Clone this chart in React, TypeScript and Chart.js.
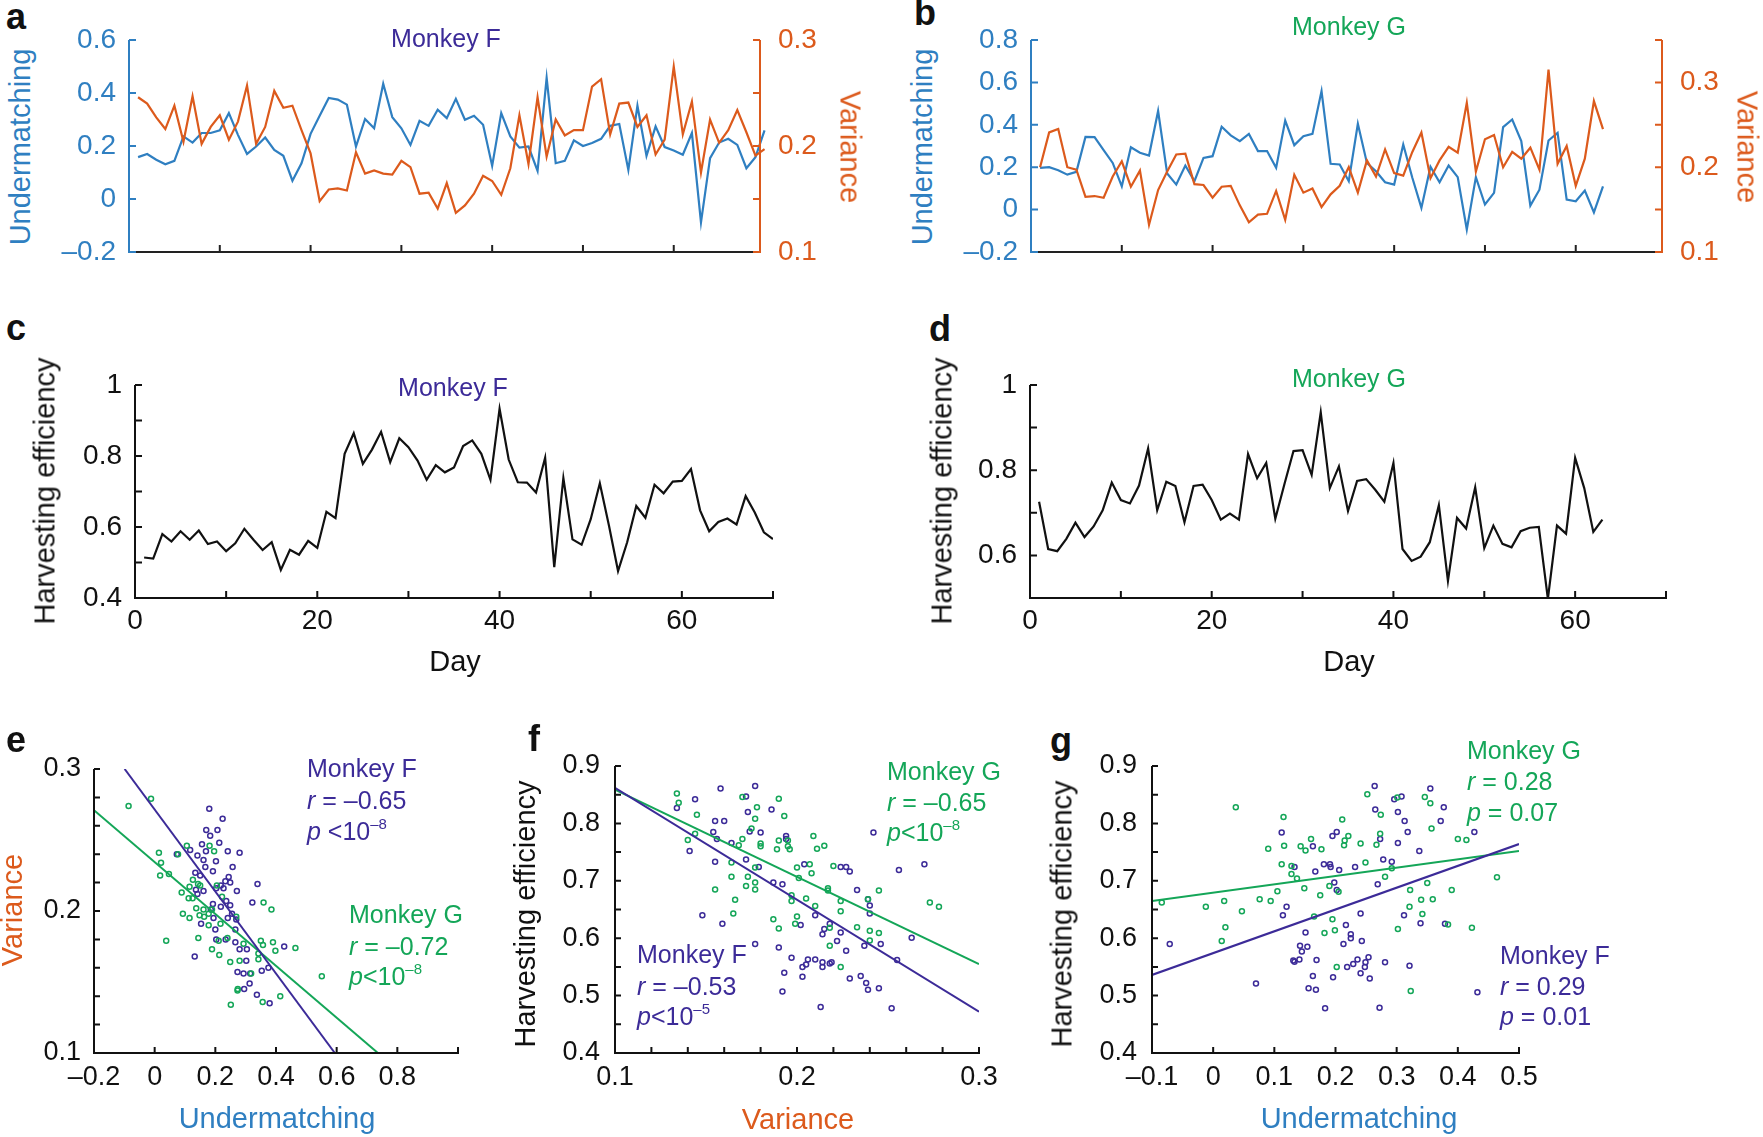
import React, { useEffect, useRef } from 'react';
import { Chart, registerables } from 'chart.js';

Chart.register(...registerables);

const FONT = "'Liberation Sans', Arial, Helvetica, sans-serif";
const BLUE = '#2f7fc1';
const ORANGE = '#dc5a1c';
const PURPLE = '#3c2b98';
const GREEN = '#14a658';
const BLACK = '#111111';

// ---------- Time series (day 1..N) ----------
const fUndermatching = [
  0.158, 0.170, 0.148, 0.131, 0.144, 0.236, 0.213, 0.249, 0.249, 0.259,
  0.324, 0.242, 0.170, 0.198, 0.232, 0.185, 0.163, 0.069, 0.135, 0.246,
  0.314, 0.381, 0.375, 0.356, 0.198, 0.302, 0.267, 0.435, 0.309, 0.267,
  0.204, 0.295, 0.276, 0.337, 0.305, 0.378, 0.299, 0.314, 0.280, 0.125,
  0.324, 0.236, 0.194, 0.198, 0.106, 0.457, 0.135, 0.144, 0.221, 0.200,
  0.211, 0.227, 0.276, 0.283, 0.110, 0.352, 0.163, 0.274, 0.196, 0.183,
  0.167, 0.249, -0.088, 0.154, 0.213, 0.227, 0.204, 0.116, 0.158, 0.259,
];
const fVariance = [
  0.246, 0.240, 0.227, 0.216, 0.238, 0.204, 0.247, 0.202, 0.218, 0.229,
  0.206, 0.223, 0.257, 0.202, 0.218, 0.252, 0.236, 0.238, 0.215, 0.193,
  0.148, 0.159, 0.160, 0.158, 0.194, 0.174, 0.177, 0.174, 0.173, 0.186,
  0.180, 0.155, 0.156, 0.141, 0.165, 0.137, 0.144, 0.155, 0.172, 0.167,
  0.154, 0.179, 0.229, 0.183, 0.246, 0.190, 0.225, 0.210, 0.215, 0.215,
  0.256, 0.263, 0.211, 0.240, 0.241, 0.218, 0.229, 0.192, 0.206, 0.275,
  0.211, 0.242, 0.175, 0.225, 0.203, 0.215, 0.234, 0.213, 0.191, 0.197,
];
const gUndermatching = [
  0.197, 0.200, 0.186, 0.165, 0.178, 0.343, 0.342, 0.280, 0.220, 0.110,
  0.294, 0.268, 0.255, 0.465, 0.170, 0.118, 0.208, 0.134, 0.244, 0.252,
  0.391, 0.350, 0.323, 0.357, 0.276, 0.276, 0.197, 0.420, 0.304, 0.346,
  0.357, 0.559, 0.216, 0.213, 0.134, 0.405, 0.220, 0.181, 0.129, 0.118,
  0.307, 0.150, 0.008, 0.202, 0.129, 0.208, 0.153, -0.094, 0.153, 0.024,
  0.079, 0.389, 0.425, 0.323, 0.019, 0.094, 0.326, 0.362, 0.047, 0.039,
  0.090, -0.013, 0.110,
];
const gVariance = [
  0.200, 0.241, 0.245, 0.200, 0.197, 0.165, 0.166, 0.164, 0.189, 0.207,
  0.177, 0.196, 0.132, 0.173, 0.195, 0.215, 0.216, 0.180, 0.179, 0.164,
  0.177, 0.178, 0.155, 0.135, 0.144, 0.145, 0.172, 0.138, 0.191, 0.170,
  0.175, 0.153, 0.168, 0.178, 0.200, 0.170, 0.208, 0.189, 0.221, 0.193,
  0.190, 0.218, 0.241, 0.187, 0.208, 0.224, 0.217, 0.276, 0.195, 0.233,
  0.238, 0.200, 0.218, 0.210, 0.223, 0.197, 0.315, 0.204, 0.225, 0.178,
  0.210, 0.278, 0.245,
];
const fEfficiency = [
  0.514, 0.511, 0.580, 0.559, 0.588, 0.564, 0.590, 0.552, 0.559, 0.532,
  0.554, 0.595, 0.564, 0.535, 0.557, 0.479, 0.536, 0.522, 0.561, 0.541,
  0.643, 0.625, 0.806, 0.864, 0.778, 0.818, 0.868, 0.783, 0.850, 0.825,
  0.787, 0.733, 0.774, 0.754, 0.768, 0.828, 0.844, 0.806, 0.733, 0.933,
  0.790, 0.726, 0.725, 0.697, 0.795, 0.487, 0.738, 0.565, 0.550, 0.622,
  0.723, 0.604, 0.476, 0.557, 0.659, 0.626, 0.719, 0.695, 0.728, 0.730,
  0.763, 0.647, 0.588, 0.614, 0.624, 0.607, 0.687, 0.641, 0.585, 0.566,
];
const gEfficiency = [
  0.726, 0.615, 0.610, 0.639, 0.677, 0.643, 0.668, 0.706, 0.771, 0.730,
  0.722, 0.764, 0.851, 0.706, 0.773, 0.763, 0.678, 0.763, 0.766, 0.730,
  0.684, 0.698, 0.684, 0.838, 0.781, 0.817, 0.686, 0.767, 0.845, 0.847,
  0.789, 0.936, 0.758, 0.809, 0.704, 0.775, 0.779, 0.754, 0.726, 0.817,
  0.615, 0.587, 0.597, 0.631, 0.718, 0.540, 0.688, 0.663, 0.760, 0.617,
  0.670, 0.627, 0.619, 0.657, 0.665, 0.667, 0.498, 0.670, 0.651, 0.829,
  0.758, 0.655, 0.684,
];

// ---------- Scatter panels ----------
// e: [undermatching, variance]
const eMonkeyF = [
  [0.180, 0.272], [0.224, 0.265], [0.170, 0.257], [0.207, 0.257], [0.183, 0.253], [0.156, 0.247], [0.213, 0.248],
  [0.117, 0.243], [0.073, 0.240], [0.141, 0.239], [0.169, 0.242], [0.241, 0.242], [0.280, 0.241], [0.161, 0.236],
  [0.202, 0.235], [0.167, 0.231], [0.257, 0.231], [0.192, 0.228], [0.134, 0.227], [0.150, 0.225], [0.244, 0.224],
  [0.233, 0.221], [0.249, 0.220], [0.218, 0.218], [0.227, 0.216], [0.203, 0.216], [0.141, 0.212], [0.161, 0.214],
  [0.271, 0.214], [0.339, 0.219], [0.236, 0.207], [0.249, 0.204], [0.218, 0.203], [0.192, 0.205], [0.322, 0.206],
  [0.185, 0.201], [0.255, 0.198], [0.269, 0.194], [0.241, 0.195], [0.194, 0.195], [0.153, 0.191], [0.200, 0.187],
  [0.266, 0.187], [0.203, 0.180], [0.234, 0.180], [0.266, 0.178], [0.280, 0.173], [0.304, 0.173], [0.302, 0.165],
  [0.427, 0.175], [0.132, 0.168], [0.273, 0.157], [0.293, 0.156], [0.315, 0.156], [0.353, 0.158], [0.375, 0.160],
  [0.313, 0.149], [0.295, 0.145], [0.337, 0.141], [0.379, 0.135], [0.136, 0.215],
];
const eMonkeyG = [
  [-0.012, 0.279], [0.106, 0.246], [0.181, 0.246], [0.196, 0.242], [0.014, 0.241], [0.077, 0.240], [0.021, 0.234],
  [0.018, 0.225], [0.047, 0.226], [0.126, 0.222], [0.143, 0.219], [0.150, 0.218], [0.115, 0.217], [0.205, 0.218],
  [0.089, 0.213], [0.112, 0.209], [0.125, 0.209], [0.222, 0.210], [0.359, 0.206], [0.385, 0.201], [0.137, 0.202],
  [0.161, 0.201], [0.093, 0.198], [0.115, 0.195], [0.148, 0.197], [0.163, 0.196], [0.178, 0.198], [0.189, 0.201],
  [0.178, 0.190], [0.217, 0.191], [0.269, 0.196], [0.038, 0.179], [0.144, 0.181], [0.211, 0.179], [0.240, 0.181],
  [0.189, 0.173], [0.213, 0.169], [0.293, 0.177], [0.350, 0.179], [0.357, 0.176], [0.390, 0.178], [0.398, 0.172],
  [0.464, 0.174], [0.249, 0.164], [0.280, 0.165], [0.342, 0.170], [0.342, 0.166], [0.318, 0.156], [0.274, 0.145],
  [0.273, 0.144], [0.356, 0.136], [0.414, 0.140], [0.251, 0.134], [0.551, 0.154], [-0.086, 0.274],
];
const eFitF = [[-0.099, 0.3], [0.594, 0.1]];
const eFitG = [[-0.2, 0.271], [0.736, 0.1]];

// f: [variance, harvesting efficiency]
const fMonkeyF = [
  [0.134, 0.827], [0.144, 0.842], [0.158, 0.861], [0.172, 0.847], [0.177, 0.865], [0.173, 0.820], [0.186, 0.824],
  [0.155, 0.804], [0.160, 0.804], [0.154, 0.785], [0.156, 0.773], [0.141, 0.752], [0.174, 0.786], [0.180, 0.784],
  [0.164, 0.766], [0.194, 0.778], [0.194, 0.773], [0.242, 0.784], [0.155, 0.733], [0.172, 0.737], [0.179, 0.724],
  [0.204, 0.729], [0.224, 0.724], [0.227, 0.724], [0.229, 0.716], [0.187, 0.697], [0.192, 0.694], [0.256, 0.719],
  [0.270, 0.729], [0.233, 0.684], [0.239, 0.668], [0.148, 0.640], [0.159, 0.625], [0.210, 0.640], [0.240, 0.657],
  [0.240, 0.643], [0.202, 0.623], [0.218, 0.625], [0.215, 0.616], [0.224, 0.610], [0.214, 0.607], [0.222, 0.595],
  [0.237, 0.587], [0.246, 0.590], [0.263, 0.601], [0.177, 0.590], [0.190, 0.584], [0.197, 0.566], [0.206, 0.563],
  [0.210, 0.563], [0.205, 0.554], [0.203, 0.550], [0.214, 0.550], [0.214, 0.558], [0.218, 0.556], [0.219, 0.558],
  [0.227, 0.578], [0.255, 0.562], [0.193, 0.540], [0.203, 0.533], [0.229, 0.530], [0.235, 0.534], [0.238, 0.522],
  [0.239, 0.510], [0.245, 0.513], [0.192, 0.507], [0.213, 0.480], [0.252, 0.478],
];
const fMonkeyG = [
  [0.134, 0.852], [0.135, 0.836], [0.145, 0.815], [0.140, 0.771], [0.144, 0.782], [0.170, 0.846], [0.178, 0.828],
  [0.177, 0.808], [0.190, 0.843], [0.193, 0.813], [0.175, 0.791], [0.170, 0.773], [0.168, 0.762], [0.180, 0.765],
  [0.180, 0.760], [0.189, 0.755], [0.190, 0.770], [0.195, 0.770], [0.195, 0.760], [0.196, 0.755], [0.209, 0.778],
  [0.211, 0.756], [0.215, 0.761], [0.177, 0.723], [0.164, 0.732], [0.164, 0.707], [0.173, 0.707], [0.172, 0.691],
  [0.177, 0.685], [0.177, 0.697], [0.200, 0.723], [0.201, 0.705], [0.207, 0.729], [0.208, 0.713], [0.220, 0.726],
  [0.155, 0.685], [0.166, 0.667], [0.165, 0.643], [0.197, 0.675], [0.197, 0.665], [0.205, 0.669], [0.210, 0.656],
  [0.217, 0.687], [0.217, 0.683], [0.224, 0.665], [0.224, 0.647], [0.239, 0.668], [0.245, 0.683], [0.273, 0.662],
  [0.278, 0.655], [0.187, 0.633], [0.190, 0.617], [0.200, 0.638], [0.199, 0.625], [0.218, 0.618], [0.233, 0.619],
  [0.240, 0.613], [0.245, 0.609], [0.240, 0.596], [0.218, 0.587], [0.224, 0.550],
];
const fFitF = [[0.1, 0.862], [0.3, 0.472]];
const fFitG = [[0.1, 0.859], [0.3, 0.555]];

// g: [undermatching, harvesting efficiency]
const gMonkeyF = [
  [0.264, 0.865], [0.265, 0.824], [0.296, 0.842], [0.308, 0.847], [0.355, 0.861], [0.377, 0.828], [0.302, 0.820],
  [0.313, 0.804], [0.372, 0.804], [0.112, 0.784], [0.202, 0.785], [0.195, 0.778], [0.273, 0.773], [0.318, 0.785],
  [0.427, 0.785], [0.302, 0.766], [0.163, 0.760], [0.337, 0.752], [0.181, 0.729], [0.191, 0.729], [0.278, 0.737],
  [0.292, 0.733], [0.133, 0.724], [0.192, 0.724], [0.167, 0.716], [0.206, 0.719], [0.232, 0.724], [0.198, 0.697],
  [0.269, 0.694], [0.202, 0.684], [0.120, 0.655], [0.114, 0.640], [0.241, 0.643], [0.312, 0.640], [0.339, 0.626],
  [0.379, 0.625], [0.217, 0.623], [0.151, 0.610], [0.225, 0.607], [0.225, 0.600], [0.213, 0.590], [0.243, 0.595],
  [-0.071, 0.590], [0.142, 0.587], [0.154, 0.585], [0.145, 0.577], [0.131, 0.561], [0.133, 0.559], [0.141, 0.563],
  [0.169, 0.562], [0.236, 0.563], [0.229, 0.555], [0.249, 0.558], [0.254, 0.567], [0.248, 0.550], [0.281, 0.558],
  [0.219, 0.550], [0.321, 0.552], [0.241, 0.539], [0.163, 0.534], [0.196, 0.532], [0.256, 0.530], [0.070, 0.521],
  [0.156, 0.513], [0.168, 0.510], [0.432, 0.506], [0.183, 0.478], [0.272, 0.479],
];
const gMonkeyG = [
  [-0.084, 0.662], [-0.012, 0.655], [0.018, 0.665], [0.047, 0.647], [0.020, 0.619], [0.014, 0.595], [0.037, 0.828],
  [0.115, 0.811], [0.090, 0.756], [0.116, 0.761], [0.112, 0.729], [0.128, 0.726], [0.128, 0.712], [0.137, 0.704],
  [0.149, 0.687], [0.105, 0.682], [0.076, 0.668], [0.094, 0.665], [0.160, 0.773], [0.143, 0.760], [0.151, 0.753],
  [0.177, 0.755], [0.165, 0.638], [0.175, 0.675], [0.182, 0.609], [0.195, 0.633], [0.199, 0.614], [0.190, 0.691],
  [0.205, 0.681], [0.211, 0.807], [0.214, 0.762], [0.221, 0.778], [0.215, 0.770], [0.241, 0.765], [0.249, 0.732],
  [0.252, 0.851], [0.274, 0.815], [0.273, 0.782], [0.267, 0.763], [0.281, 0.707], [0.292, 0.722], [0.301, 0.845],
  [0.302, 0.616], [0.321, 0.655], [0.322, 0.684], [0.340, 0.667], [0.342, 0.642], [0.350, 0.696], [0.346, 0.846],
  [0.355, 0.835], [0.357, 0.791], [0.359, 0.668], [0.384, 0.624], [0.390, 0.684], [0.400, 0.773], [0.414, 0.771],
  [0.423, 0.618], [0.464, 0.706], [0.202, 0.550], [0.323, 0.508],
];
const gFitF = [[-0.1, 0.536], [0.5, 0.764]];
const gFitG = [[-0.1, 0.665], [0.5, 0.752]];

// ---------- Ticks ----------
const steps = (a: number, b: number, s: number): number[] => {
  const out: number[] = [];
  for (let i = 0; a + i * s <= b + 1e-9; i++) out.push(Math.round((a + i * s) * 1000) / 1000);
  return out;
};
const tsDayTicks = [10, 20, 30, 40, 50, 60];
const dayTicks = steps(0, 70, 10);
const dayLabels = [0, 20, 40, 60];
const aLeftTicks = steps(-0.2, 0.6, 0.2);
const aRightTicks = steps(0.1, 0.3, 0.05);
const bLeftTicks = steps(-0.2, 0.8, 0.2);
const bRightTicks = steps(0.1, 0.35, 0.05);
const varLabels = [0.1, 0.2, 0.3];
const cEffTicks = steps(0.4, 1, 0.1);
const cEffLabels = [0.4, 0.6, 0.8, 1];
const dEffTicks = steps(0.5, 1, 0.1);
const dEffLabels = [0.6, 0.8, 1];
const eXTicks = steps(-0.2, 1.0, 0.2);
const eXLabels = [-0.2, 0, 0.2, 0.4, 0.6, 0.8];
const eYTicks = steps(0.1, 0.3, 0.02);
const fXTicks = steps(0.1, 0.3, 0.02);
const effTicks = steps(0.4, 0.9, 0.05);
const effLabels = steps(0.4, 0.9, 0.1);
const gXTicks = steps(-0.1, 0.5, 0.1);

const fmt = (v: number) => {
  const r = Math.round(v * 1000) / 1000;
  if (Math.abs(r) < 1e-9) return '0';
  return (r < 0 ? '\u2013' : '') + String(Math.abs(r));
};
const labelFor = (labels: number[]) => (v: any) => {
  const n = Number(v);
  return labels.some((l) => Math.abs(l - n) < 1e-6) ? fmt(n) : '';
};

type AxisOpt = {
  pos: 'left' | 'right' | 'bottom'; min: number; max: number; ticks: number[]; labels: number[];
  color: string; size: number; pad: number; fit: number;
};
const axis = (o: AxisOpt) => ({
  type: 'linear', position: o.pos, min: o.min, max: o.max,
  grid: { display: false, drawTicks: false }, border: { display: false },
  ticks: {
    display: o.labels.length > 0, color: o.color, font: { family: FONT, size: o.size }, padding: o.pad,
    autoSkip: false, maxRotation: 0, minRotation: 0, callback: labelFor(o.labels),
  },
  afterBuildTicks: (s: any) => { s.ticks = o.ticks.map((v) => ({ value: v })); },
  afterFit: (s: any) => {
    if (o.pos === 'bottom') s.height = o.fit; else s.width = o.fit;
    s.paddingTop = 0; s.paddingBottom = 0; s.paddingLeft = 0; s.paddingRight = 0;
  },
});

// plugin: axis lines + inward tick marks drawn from the chart's scales
const inTicks = {
  id: 'inTicks',
  afterDatasetsDraw(chart: any, _a: any, opts: any) {
    const { ctx, chartArea: ca } = chart;
    ctx.save();
    for (const a of opts.axes || []) {
      const s = chart.scales[a.id];
      ctx.strokeStyle = a.color; ctx.lineWidth = a.width; ctx.lineCap = 'butt';
      ctx.beginPath();
      if (a.side === 'bottom') { ctx.moveTo(ca.left - a.width / 2, ca.bottom); ctx.lineTo(ca.right + a.width / 2, ca.bottom); }
      else if (a.side === 'left') { ctx.moveTo(ca.left, ca.top); ctx.lineTo(ca.left, ca.bottom + a.width / 2); }
      else { ctx.moveTo(ca.right, ca.top); ctx.lineTo(ca.right, ca.bottom + a.width / 2); }
      for (const t of s.ticks) {
        const p = s.getPixelForValue(t.value);
        if (a.side === 'bottom') { ctx.moveTo(p, ca.bottom); ctx.lineTo(p, ca.bottom - a.len); }
        else if (a.side === 'left') { ctx.moveTo(ca.left, p); ctx.lineTo(ca.left + a.len, p); }
        else { ctx.moveTo(ca.right, p); ctx.lineTo(ca.right - a.len, p); }
      }
      ctx.stroke();
    }
    ctx.restore();
  },
};

type Frame = { L: number; T: number; R: number; B: number; mL: number; mT: number; mR: number; mB: number };
const rectOf = (f: Frame) => ({ l: f.L - f.mL, t: f.T - f.mT, w: f.R - f.L + f.mL + f.mR, h: f.B - f.T + f.mT + f.mB });

const baseOptions = (f: Frame, scales: any, axes: any[], hasRight: boolean) => ({
  responsive: false, maintainAspectRatio: false, animation: false, devicePixelRatio: 1, events: [],
  layout: { autoPadding: false, padding: { top: f.mT, left: 0, bottom: 0, right: hasRight ? 0 : f.mR } },
  plugins: { legend: { display: false }, tooltip: { enabled: false }, inTicks: { axes } },
  scales,
});

const series = (vals: number[]) => vals.map((v, i) => ({ x: i + 1, y: v }));
const toXY = (pts: number[][]) => pts.map(([x, y]) => ({ x, y }));

// ---------- Frames (plot areas in page pixels) ----------
const FA: Frame = { L: 129, T: 40, R: 760, B: 252, mL: 80, mT: 20, mR: 80, mB: 20 };
const FB: Frame = { L: 1031, T: 40, R: 1662, B: 252, mL: 80, mT: 20, mR: 80, mB: 20 };
const FC: Frame = { L: 135, T: 385, R: 773, B: 598, mL: 80, mT: 20, mR: 30, mB: 50 };
const FD: Frame = { L: 1030, T: 385, R: 1666, B: 598, mL: 80, mT: 20, mR: 30, mB: 50 };
const FE: Frame = { L: 94, T: 769, R: 458, B: 1053, mL: 80, mT: 20, mR: 30, mB: 50 };
const FF: Frame = { L: 615, T: 766, R: 979, B: 1053, mL: 80, mT: 20, mR: 30, mB: 50 };
const FG: Frame = { L: 1152, T: 766, R: 1519, B: 1053, mL: 80, mT: 20, mR: 30, mB: 50 };

const tsConfig = (f: Frame, under: number[], vari: number[], leftMax: number, leftTicks: number[], rightMax: number, rightTicks: number[]) => ({
  type: 'line',
  data: {
    datasets: [
      { data: series(vari), yAxisID: 'y1', borderColor: ORANGE, borderWidth: 2.2, pointRadius: 0, tension: 0, clip: false, fill: false },
      { data: series(under), yAxisID: 'y', borderColor: BLUE, borderWidth: 2.2, pointRadius: 0, tension: 0, clip: false, fill: false },
    ],
  },
  options: baseOptions(f, {
    x: axis({ pos: 'bottom', min: 0, max: 69.5, ticks: tsDayTicks, labels: [], color: BLACK, size: 28, pad: 8, fit: f.mB }),
    y: axis({ pos: 'left', min: -0.2, max: leftMax, ticks: leftTicks, labels: leftTicks, color: BLUE, size: 28, pad: 13, fit: f.mL }),
    y1: axis({ pos: 'right', min: 0.1, max: rightMax, ticks: rightTicks, labels: varLabels, color: ORANGE, size: 28, pad: 18, fit: f.mR }),
  }, [
    { id: 'x', side: 'bottom', color: '#222', width: 2, len: 7 },
    { id: 'y', side: 'left', color: BLUE, width: 2, len: 7 },
    { id: 'y1', side: 'right', color: ORANGE, width: 2, len: 7 },
  ], true),
  plugins: [inTicks],
});

const effConfig = (f: Frame, eff: number[], yMin: number, yTicks: number[], yLabels: number[]) => ({
  type: 'line',
  data: { datasets: [{ data: series(eff), borderColor: BLACK, borderWidth: 2.2, pointRadius: 0, tension: 0, fill: false }] },
  options: baseOptions(f, {
    x: axis({ pos: 'bottom', min: 0, max: 70, ticks: dayTicks, labels: dayLabels, color: BLACK, size: 28, pad: 6, fit: f.mB }),
    y: axis({ pos: 'left', min: yMin, max: 1, ticks: yTicks, labels: yLabels, color: BLACK, size: 28, pad: 13, fit: f.mL }),
  }, [
    { id: 'x', side: 'bottom', color: BLACK, width: 2, len: 7 },
    { id: 'y', side: 'left', color: BLACK, width: 2, len: 7 },
  ], false),
  plugins: [inTicks],
});

const pts = (p: number[][], color: string) => ({
  type: 'scatter', data: toXY(p), borderColor: color, backgroundColor: 'rgba(0,0,0,0)',
  pointRadius: 2.5, pointBorderWidth: 1.5, borderWidth: 1.5, showLine: false,
});
const fit = (p: number[][], color: string) => ({
  type: 'line', data: toXY(p), borderColor: color, borderWidth: 2, pointRadius: 0, showLine: true, fill: false, tension: 0,
});

const scatterConfig = (f: Frame, F: number[][], G: number[][], lF: number[][], lG: number[][], xa: any, ya: any) => ({
  type: 'scatter',
  data: { datasets: [fit(lF, PURPLE), fit(lG, GREEN), pts(G, GREEN), pts(F, PURPLE)] },
  options: baseOptions(f, { x: axis({ ...xa, pos: 'bottom', color: BLACK, size: 27, pad: 8, fit: f.mB }), y: axis({ ...ya, pos: 'left', color: BLACK, size: 27, fit: f.mL }) }, [
    { id: 'x', side: 'bottom', color: BLACK, width: 2, len: 6 },
    { id: 'y', side: 'left', color: BLACK, width: 2, len: 6 },
  ], false),
  plugins: [inTicks],
});

function ChartBox({ frame, make }: { frame: Frame; make: () => any }) {
  const ref = useRef<HTMLCanvasElement>(null);
  const r = rectOf(frame);
  useEffect(() => {
    const chart = new Chart(ref.current as HTMLCanvasElement, make());
    return () => chart.destroy();
  }, []);
  return (
    <canvas ref={ref} width={r.w} height={r.h}
      style={{ position: 'absolute', left: r.l, top: r.t, width: r.w, height: r.h }} />
  );
}

function T({ x, y, size = 25, color = BLACK, anchor = 'left', rot = 0, bold = false, children }: any) {
  const tf = rot !== 0 ? `translate(-50%,-50%) rotate(${rot}deg)` : anchor === 'center' ? 'translate(-50%,-50%)' : 'translateY(-50%)';
  return (
    <div style={{ position: 'absolute', left: x, top: y, transform: tf, fontSize: size, color, fontWeight: bold ? 700 : 400, lineHeight: 1, whiteSpace: 'nowrap' }}>
      {children}
    </div>
  );
}
const Sup = ({ children }: any) => <span style={{ fontSize: '0.6em', position: 'relative', top: '-0.75em' }}>{children}</span>;

export default function App() {
  return (
    <div style={{ position: 'absolute', left: 0, top: 0, width: 1763, height: 1137, overflow: 'hidden', background: '#fff', fontFamily: FONT }}>
      <ChartBox frame={FA} make={() => tsConfig(FA, fUndermatching, fVariance, 0.6, aLeftTicks, 0.3, aRightTicks)} />
      <ChartBox frame={FB} make={() => tsConfig(FB, gUndermatching, gVariance, 0.8, bLeftTicks, 0.35, bRightTicks)} />
      <ChartBox frame={FC} make={() => effConfig(FC, fEfficiency, 0.4, cEffTicks, cEffLabels)} />
      <ChartBox frame={FD} make={() => effConfig(FD, gEfficiency, 0.5, dEffTicks, dEffLabels)} />
      <ChartBox frame={FE} make={() => scatterConfig(FE, eMonkeyF, eMonkeyG, eFitF, eFitG,
        { min: -0.2, max: 1.0, ticks: eXTicks, labels: eXLabels }, { min: 0.1, max: 0.3, ticks: eYTicks, labels: varLabels, pad: 13 })} />
      <ChartBox frame={FF} make={() => scatterConfig(FF, fMonkeyF, fMonkeyG, fFitF, fFitG,
        { min: 0.1, max: 0.3, ticks: fXTicks, labels: varLabels }, { min: 0.4, max: 0.9, ticks: effTicks, labels: effLabels, pad: 15 })} />
      <ChartBox frame={FG} make={() => scatterConfig(FG, gMonkeyF, gMonkeyG, gFitF, gFitG,
        { min: -0.1, max: 0.5, ticks: gXTicks, labels: gXTicks }, { min: 0.4, max: 0.9, ticks: effTicks, labels: effLabels, pad: 15 })} />

      {/* panel letters */}
      <T x={16} y={17} size={36} bold anchor="center">a</T>
      <T x={925} y={13} size={36} bold anchor="center">b</T>
      <T x={16} y={328} size={36} bold anchor="center">c</T>
      <T x={940} y={329} size={36} bold anchor="center">d</T>
      <T x={16} y={740} size={36} bold anchor="center">e</T>
      <T x={534} y={739} size={36} bold anchor="center">f</T>
      <T x={1061} y={741} size={36} bold anchor="center">g</T>

      {/* a */}
      <T x={446} y={38} color={PURPLE} anchor="center">Monkey F</T>
      <T x={20} y={147} size={29} color={BLUE} rot={-90}>Undermatching</T>
      <T x={850} y={147} size={29} color={ORANGE} rot={90}>Variance</T>
      {/* b */}
      <T x={1349} y={26} color={GREEN} anchor="center">Monkey G</T>
      <T x={922} y={147} size={29} color={BLUE} rot={-90}>Undermatching</T>
      <T x={1747} y={147} size={29} color={ORANGE} rot={90}>Variance</T>
      {/* c */}
      <T x={453} y={387} color={PURPLE} anchor="center">Monkey F</T>
      <T x={45} y={491} size={29} rot={-90}>Harvesting efficiency</T>
      <T x={455} y={661} size={29} anchor="center">Day</T>
      {/* d */}
      <T x={1349} y={378} color={GREEN} anchor="center">Monkey G</T>
      <T x={942} y={491} size={29} rot={-90}>Harvesting efficiency</T>
      <T x={1349} y={661} size={29} anchor="center">Day</T>
      {/* e */}
      <T x={12} y={910} size={29} color={ORANGE} rot={-90}>Variance</T>
      <T x={277} y={1118} size={29} color={BLUE} anchor="center">Undermatching</T>
      <T x={307} y={768} color={PURPLE}>Monkey F</T>
      <T x={307} y={800} color={PURPLE}><i>r</i> = –0.65</T>
      <T x={307} y={831} color={PURPLE}><i>p</i> &lt;10<Sup>–8</Sup></T>
      <T x={349} y={914} color={GREEN}>Monkey G</T>
      <T x={349} y={946} color={GREEN}><i>r</i> = –0.72</T>
      <T x={349} y={976} color={GREEN}><i>p</i>&lt;10<Sup>–8</Sup></T>
      {/* f */}
      <T x={525} y={914} size={29} rot={-90}>Harvesting efficiency</T>
      <T x={798} y={1119} size={29} color={ORANGE} anchor="center">Variance</T>
      <T x={887} y={771} color={GREEN}>Monkey G</T>
      <T x={887} y={802} color={GREEN}><i>r</i> = –0.65</T>
      <T x={887} y={832} color={GREEN}><i>p</i>&lt;10<Sup>–8</Sup></T>
      <T x={637} y={954} color={PURPLE}>Monkey F</T>
      <T x={637} y={986} color={PURPLE}><i>r</i> = –0.53</T>
      <T x={637} y={1016} color={PURPLE}><i>p</i>&lt;10<Sup>–5</Sup></T>
      {/* g */}
      <T x={1062} y={914} size={29} rot={-90}>Harvesting efficiency</T>
      <T x={1359} y={1118} size={29} color={BLUE} anchor="center">Undermatching</T>
      <T x={1467} y={750} color={GREEN}>Monkey G</T>
      <T x={1467} y={781} color={GREEN}><i>r</i> = 0.28</T>
      <T x={1467} y={812} color={GREEN}><i>p</i> = 0.07</T>
      <T x={1500} y={955} color={PURPLE}>Monkey F</T>
      <T x={1500} y={986} color={PURPLE}><i>r</i> = 0.29</T>
      <T x={1500} y={1016} color={PURPLE}><i>p</i> = 0.01</T>
    </div>
  );
}
